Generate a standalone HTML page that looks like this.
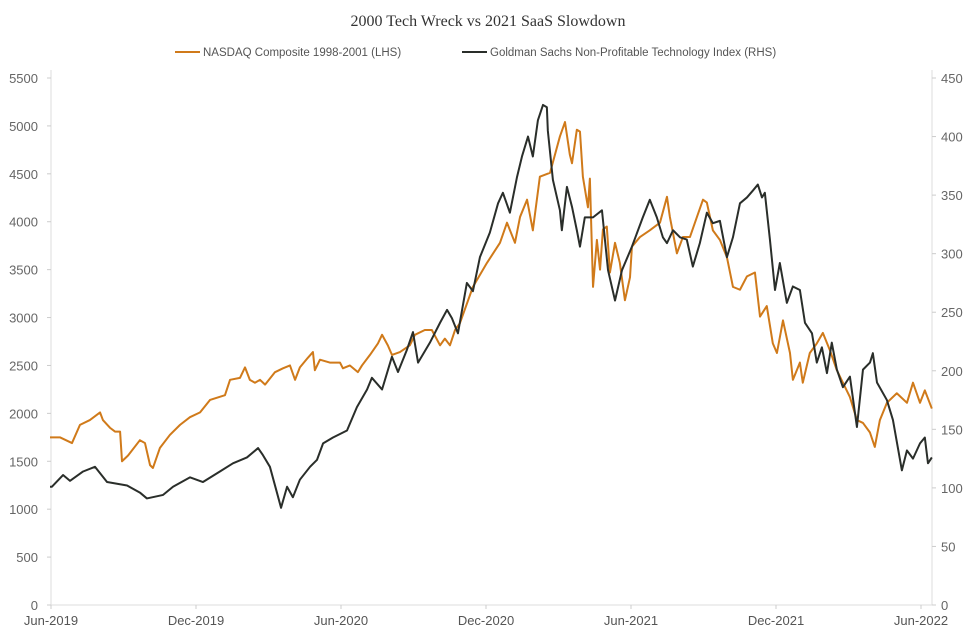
<!DOCTYPE html>
<html><head><meta charset="utf-8"><style>
body{margin:0;background:#fff;width:976px;height:637px;overflow:hidden}
svg{display:block}
text{font-family:"Liberation Sans",sans-serif}
</style></head><body>
<svg id="chart" width="976" height="637">
<text x="488" y="26" text-anchor="middle" font-family="Liberation Serif" style="font-family:'Liberation Serif',serif" font-size="16" fill="#333">2000 Tech Wreck vs 2021 SaaS Slowdown</text>
<g>
<g><line x1="175" y1="52" x2="200" y2="52" stroke="#d07a1a" stroke-width="2"/><text x="203" y="56" font-size="11.5" fill="#555">NASDAQ Composite 1998-2001 (LHS)</text></g>
<g><line x1="462" y1="52" x2="487" y2="52" stroke="#2a2e2a" stroke-width="2"/><text x="490" y="56" font-size="11.5" fill="#555">Goldman Sachs Non-Profitable Technology Index (RHS)</text></g>
</g>
<g id="axes"></g>
<g id="marks"></g>
</svg>
<script>
const leftTicks=[0,500,1000,1500,2000,2500,3000,3500,4000,4500,5000,5500];
const rightTicks=[0,50,100,150,200,250,300,350,400,450];
const xTickLabels=["Jun-2019","Dec-2019","Jun-2020","Dec-2020","Jun-2021","Dec-2021","Jun-2022"];
const xTickMonths=[0,6,12,18,24,30,36];
const nasdaqMonths=[0,0.41,0.91,1.24,1.65,2.07,2.19,2.48,2.69,2.9,2.98,3.23,3.72,3.93,4.14,4.26,4.55,4.96,5.38,5.79,6.21,6.62,7.24,7.45,7.86,8.07,8.27,8.48,8.69,8.9,9.31,9.64,9.93,10.14,10.34,10.67,10.88,10.96,11.17,11.58,12,12.12,12.41,12.74,12.91,13.24,13.57,13.74,13.98,14.15,14.48,14.89,15.1,15.51,15.8,16.14,16.34,16.55,16.76,16.96,17.5,18.08,18.62,18.91,19.24,19.45,19.74,19.98,20.27,20.69,21.1,21.31,21.51,21.6,21.8,21.93,22.05,22.26,22.34,22.47,22.63,22.76,22.88,23.04,23.17,23.38,23.58,23.79,24,24.08,24.41,24.82,25.24,25.53,25.65,25.94,26.19,26.48,26.77,27.02,27.18,27.43,27.72,28.01,28.26,28.55,28.84,29.17,29.38,29.66,29.91,30.08,30.33,30.62,30.74,31.03,31.15,31.44,31.73,31.98,32.27,32.56,32.81,33.1,33.39,33.64,33.93,34.13,34.34,34.63,35.04,35.46,35.71,36,36.2,36.49];
const nasdaqValues=[1750,1750,1690,1880,1930,2010,1930,1850,1810,1810,1500,1560,1720,1690,1460,1430,1640,1775,1880,1960,2010,2140,2190,2350,2370,2480,2350,2320,2350,2300,2430,2470,2500,2350,2480,2580,2640,2450,2560,2530,2530,2470,2500,2430,2500,2610,2730,2820,2710,2610,2640,2710,2820,2870,2870,2710,2780,2710,2870,2940,3320,3570,3780,3990,3780,4050,4230,3910,4470,4510,4890,5040,4700,4610,4960,4940,4470,4150,4450,3320,3810,3500,3920,3950,3470,3780,3570,3180,3420,3740,3840,3910,3990,4260,4050,3670,3840,3840,4050,4230,4200,3910,3810,3630,3320,3290,3430,3470,3010,3120,2730,2630,2970,2630,2350,2530,2320,2630,2730,2840,2660,2450,2320,2170,1930,1900,1800,1650,1930,2110,2210,2110,2320,2110,2240,2050];
const gsMonths=[0,0.08,0.54,0.83,1.37,1.86,2.36,3.19,3.72,4.01,4.68,5.09,5.79,6.33,7.03,7.57,8.15,8.61,8.81,9.1,9.39,9.56,9.81,10.05,10.34,10.76,11.05,11.3,11.71,12.29,12.7,13.12,13.32,13.74,14.15,14.4,14.77,15.02,15.23,15.72,16.14,16.43,16.63,16.88,17.25,17.5,17.79,18.2,18.54,18.74,19.03,19.32,19.53,19.78,19.98,20.19,20.4,20.56,20.6,20.81,21.1,21.18,21.39,21.6,21.8,21.93,22.13,22.47,22.84,23.09,23.38,23.67,24.08,24.53,24.82,25.11,25.36,25.53,25.78,26.07,26.35,26.6,26.89,27.18,27.43,27.72,28.01,28.26,28.55,28.84,29.09,29.29,29.46,29.58,29.79,30,30.2,30.49,30.74,31.03,31.24,31.53,31.73,31.94,32.15,32.35,32.56,32.81,33.1,33.39,33.64,33.93,34.05,34.22,34.63,34.88,35.25,35.46,35.71,36,36.2,36.33,36.49];
const gsValues=[101,101,111,106,114,118,105,102,96,91,94,101,109,105,114,121,126,134,128,118,96,83,101,92,107,118,124,138,143,149,169,184,194,184,212,199,218,233,207,224,241,252,245,232,275,268,297,318,343,352,335,365,383,400,383,414,427,425,405,363,337,320,357,340,320,306,331,331,337,286,260,286,306,331,346,331,314,309,320,314,312,289,309,335,326,328,297,314,343,348,354,359,348,352,312,269,292,258,272,269,241,232,207,220,198,224,201,186,195,152,201,207,215,190,175,158,115,132,125,138,143,121,126];

const X0=50,X1=920,YB=605,YT=78;
const xs=m=>X0+(X1-X0)*m/36;
const yl=v=>YB-(YB-YT)*v/5500;
const yr=v=>YB-(YB-YT)*v/450;
const NS="http://www.w3.org/2000/svg";
const axes=document.getElementById('axes'),marks=document.getElementById('marks');
function mk(tag,attrs,parent){const e=document.createElementNS(NS,tag);for(const k in attrs)e.setAttribute(k,attrs[k]);parent.appendChild(e);return e;}
let e;
e=mk('line',{x1:X0+1,y1:YT-8,x2:X0+1,y2:YB,stroke:'#ddd'},axes);


e=mk('line',{x1:932,y1:YT-8,x2:932,y2:YB,stroke:'#ddd'},axes);


e=mk('line',{x1:X0+1,y1:YB,x2:932,y2:YB,stroke:'#ddd'},axes);


leftTicks.forEach(v=>{
 mk('line',{x1:X0-3,x2:X0+1,y1:yl(v),y2:yl(v),stroke:'#ccc'},axes);
 e=mk('text',{x:38,y:yl(v)+5,'text-anchor':'end','font-size':'13',fill:'#666'},axes);e.textContent=v;
 
 
});
rightTicks.forEach(v=>{
 mk('line',{x1:932,x2:936,y1:yr(v),y2:yr(v),stroke:'#ccc'},axes);
 e=mk('text',{x:941,y:yr(v)+5,'font-size':'13',fill:'#666'},axes);e.textContent=v;
 
 
});
xTickMonths.forEach((m,i)=>{
 mk('line',{x1:xs(m)+1,x2:xs(m)+1,y1:YB,y2:YB+4,stroke:'#ccc'},axes);
 e=mk('text',{x:xs(m)+1,y:625,'text-anchor':'middle','font-size':'13',fill:'#555'},axes);e.textContent=xTickLabels[i];
 
 
});
e=mk('polyline',{points:nasdaqMonths.map((m,i)=>xs(m)+','+yl(nasdaqValues[i])).join(' '),fill:'none',stroke:'#d07a1a','stroke-width':'2','stroke-linejoin':'round'},marks);


e=mk('polyline',{points:gsMonths.map((m,i)=>xs(m)+','+yr(gsValues[i])).join(' '),fill:'none',stroke:'#2a2e2a','stroke-width':'2','stroke-linejoin':'round'},marks);


</script>
</body></html>
